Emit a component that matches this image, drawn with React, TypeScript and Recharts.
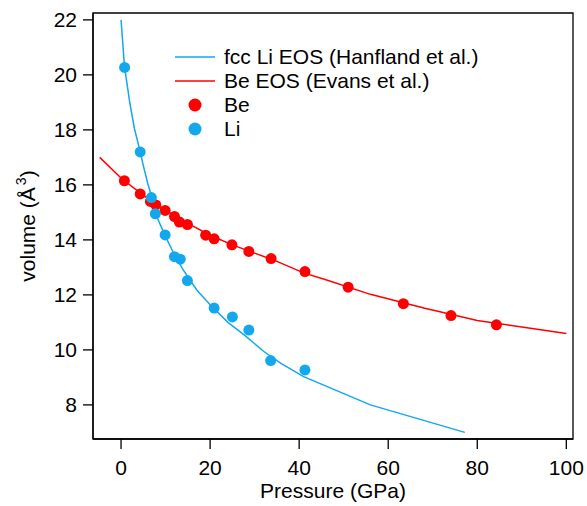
import {
  ComposedChart,
  Line,
  Scatter,
  XAxis,
  YAxis,
  Legend,
  Label,
  ReferenceArea,
} from 'recharts'

const BLUE = '#13A8EE'
const RED = '#FF0000'
const FONT = '"Liberation Sans", Arial, sans-serif'

// fcc Li EOS (Hanfland et al.)
const liEosP = [0, 0.5, 0.8, 1.5, 2, 3, 4, 5, 6, 7, 8, 10, 12, 14, 17, 20, 24, 28, 32, 36, 41, 56, 77.2]
const liEosV = [22, 20.9, 20.27, 19.5, 18.95, 18.05, 17.4, 16.7, 16.05, 15.5, 14.85, 14.12, 13.45, 12.9, 12.18, 11.64, 11.0, 10.5, 9.95, 9.5, 9.03, 8.0, 7.0]

// Be EOS (Evans et al.)
const beEosP = [-4.8, 0, 5, 10, 15, 20, 25, 30, 35, 41, 46, 56, 68, 80, 90, 100]
const beEosV = [17.0, 16.25, 15.62, 15.07, 14.6, 14.17, 13.82, 13.52, 13.22, 12.8, 12.55, 12.02, 11.52, 11.07, 10.83, 10.6]

// measured points
const beP = [0.75, 4.3, 6.6, 7.8, 9.9, 12.0, 13.1, 14.9, 19.0, 20.9, 24.9, 28.7, 33.7, 41.3, 51.0, 63.4, 74.1, 84.3]
const beV = [16.15, 15.67, 15.4, 15.27, 15.07, 14.85, 14.65, 14.56, 14.17, 14.04, 13.82, 13.58, 13.32, 12.85, 12.28, 11.68, 11.25, 10.91]

const liP = [0.8, 4.3, 6.8, 7.7, 9.9, 12.0, 13.3, 14.9, 20.9, 25.0, 28.7, 33.6, 41.3]
const liV = [20.27, 17.2, 15.54, 14.95, 14.18, 13.39, 13.3, 12.52, 11.52, 11.2, 10.72, 9.61, 9.27]

const xTicks = [0, 20, 40, 60, 80, 100]
const yTicks = [8, 10, 12, 14, 16, 18, 20, 22]

const X_DOMAIN: [number, number] = [-6.3, 101.5]
const Y_DOMAIN: [number, number] = [6.76, 22.25]

const zip = (p: number[], v: number[]) => p.map((x, i) => ({ p: x, v: v[i] }))

const liEos = zip(liEosP, liEosV)
const beEos = zip(beEosP, beEosV)
const bePts = zip(beP, beV)
const liPts = zip(liP, liV)

const legendItems = [
  { label: 'fcc Li EOS (Hanfland et al.)', color: BLUE, kind: 'line' },
  { label: 'Be EOS (Evans et al.)', color: RED, kind: 'line' },
  { label: 'Be', color: RED, kind: 'dot' },
  { label: 'Li', color: BLUE, kind: 'dot' },
]

function LegendBox() {
  return (
    <div style={{ fontFamily: FONT, fontSize: 21, lineHeight: '24px', color: '#000' }}>
      {legendItems.map((it) => (
        <div key={it.label} style={{ display: 'flex', alignItems: 'center', height: 24, whiteSpace: 'nowrap' }}>
          <svg width={49} height={24} style={{ display: 'block' }}>
            {it.kind === 'line' ? (
              <line x1={0} x2={40} y1={12} y2={12} stroke={it.color} strokeWidth={1.5} />
            ) : (
              <circle cx={20} cy={12} r={6.5} fill={it.color} />
            )}
          </svg>
          <span>{it.label}</span>
        </div>
      ))}
    </div>
  )
}

function YLabel({ viewBox }: any) {
  const cx = 35
  const cy = viewBox.y + viewBox.height / 2
  return (
    <text
      x={cx}
      y={cy}
      transform={`rotate(-90, ${cx}, ${cy})`}
      textAnchor="middle"
      fontFamily={FONT}
      fontSize={21}
      fill="#000"
    >
      volume (Å
      <tspan dx={2} dy={-9} fontSize={14}>3</tspan>
      <tspan dy={9}>)</tspan>
    </text>
  )
}

const dot = (color: string) => (props: any) => (
  <circle cx={props.cx} cy={props.cy} r={5.5} fill={color} />
)

export default function App() {
  return (
    <div style={{ position: 'absolute', left: 0, top: 0, background: '#fff' }}>
      <ComposedChart
        width={587}
        height={506}
        margin={{ top: 13, right: 14, bottom: 0, left: 0 }}
      >
        <XAxis
          type="number"
          dataKey="p"
          domain={X_DOMAIN}
          ticks={xTicks}
          allowDataOverflow
          height={67}
          tickSize={10}
          tickMargin={11}
          stroke="#000"
          strokeWidth={1.3}
          tick={{ fill: '#000', fontSize: 21, fontFamily: FONT }}
        >
          <Label
            value="Pressure (GPa)"
            position="insideBottom"
            offset={8}
            style={{ fill: '#000', fontSize: 21, fontFamily: FONT }}
          />
        </XAxis>
        <YAxis
          type="number"
          dataKey="v"
          domain={Y_DOMAIN}
          ticks={yTicks}
          allowDataOverflow
          width={93}
          tickSize={10}
          tickMargin={6}
          stroke="#000"
          strokeWidth={1.3}
          tick={{ fill: '#000', fontSize: 21, fontFamily: FONT }}
        >
          <Label content={<YLabel />} />
        </YAxis>
        <ReferenceArea
          x1={X_DOMAIN[0]}
          x2={X_DOMAIN[1]}
          y1={Y_DOMAIN[0]}
          y2={Y_DOMAIN[1]}
          fill="none"
          stroke="#000"
          strokeWidth={1.3}
          ifOverflow="visible"
        />
        <Line
          data={liEos}
          dataKey="v"
          type="linear"
          stroke={BLUE}
          strokeWidth={1.5}
          dot={false}
          isAnimationActive={false}
        />
        <Line
          data={beEos}
          dataKey="v"
          type="linear"
          stroke={RED}
          strokeWidth={1.5}
          dot={false}
          isAnimationActive={false}
        />
        <Scatter data={bePts} dataKey="v" fill={RED} shape={dot(RED)} isAnimationActive={false} />
        <Scatter data={liPts} dataKey="v" fill={BLUE} shape={dot(BLUE)} isAnimationActive={false} />
        <Legend
          layout="vertical"
          align="center"
          verticalAlign="middle"
          wrapperStyle={{ left: 175, top: 45, width: 'auto', height: 'auto' }}
          content={<LegendBox />}
        />
      </ComposedChart>
    </div>
  )
}
